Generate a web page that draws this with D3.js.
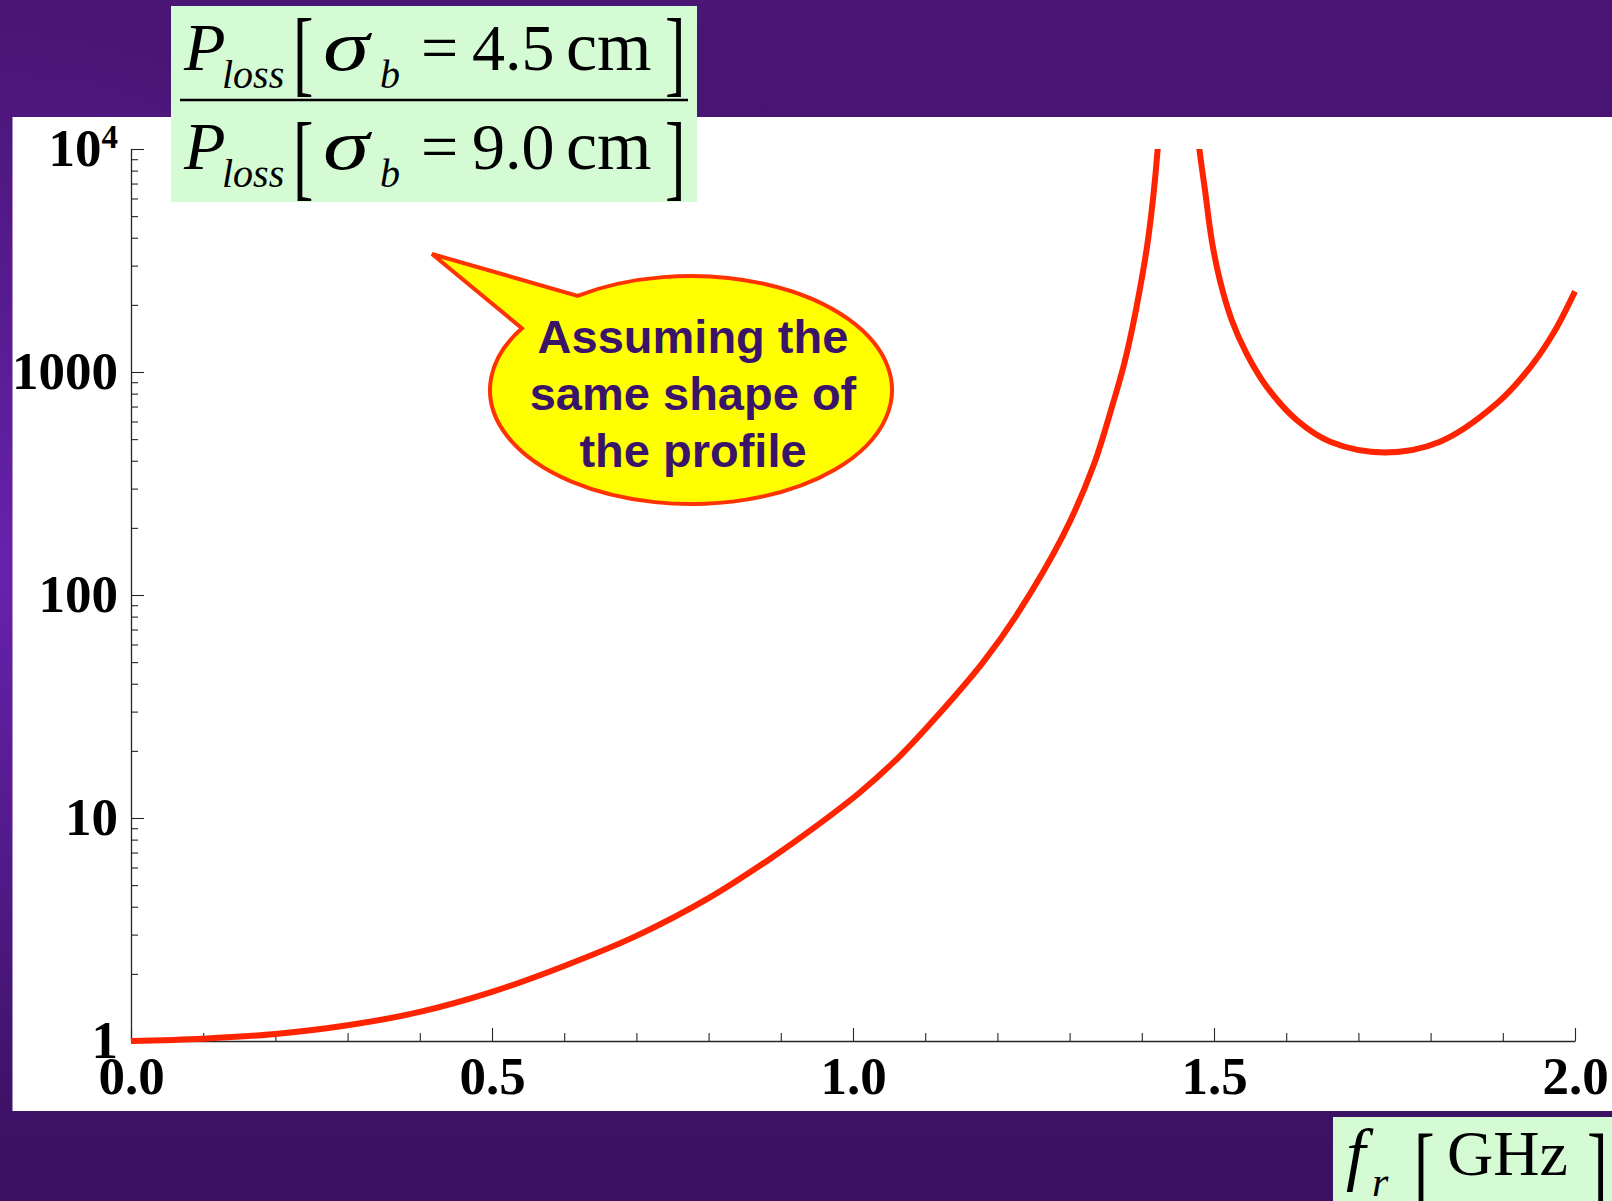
<!DOCTYPE html>
<html>
<head>
<meta charset="utf-8">
<script src="https://cdn.jsdelivr.net/npm/d3@7"></script>
<style>
  html, body { margin: 0; padding: 0; background: #451471; overflow: hidden; }
  svg { display: block; }
</style>
</head>
<body>
<svg id="chart" width="1612" height="1201"></svg>
<script>
// ---- data ----
const xMajorTicks = [0, 0.5, 1.0, 1.5, 2.0];
const xTickLabels = ["0.0", "0.5", "1.0", "1.5", "2.0"];
const xMinorTicks = [0.1, 0.2, 0.3, 0.4, 0.6, 0.7, 0.8, 0.9, 1.1, 1.2, 1.3, 1.4, 1.6, 1.7, 1.8, 1.9];
const yMajorTicks = [1, 10, 100, 1000, 10000];
const yTickLabels = ["1", "10", "100", "1000", "10"];
const yDecades = [1, 10, 100, 1000];
const yMinorMultipliers = [2, 3, 4, 5, 6, 7, 8, 9];

// branch below the resonance (f_r in GHz, loss ratio)
const leftX = [0, 0.1, 0.2, 0.3, 0.4, 0.5, 0.6, 0.7, 0.8, 0.887, 0.949, 1.009, 1.065, 1.116, 1.18, 1.226, 1.291, 1.333, 1.36, 1.376, 1.3926, 1.409, 1.422, 1.428];
const leftY = [1, 1.024, 1.075, 1.176, 1.35, 1.66, 2.17, 2.96, 4.37, 6.62, 9.19, 12.98, 18.96, 28.5, 49.9, 80.7, 185, 380, 722, 1100, 1950, 4000, 10000, 22000];
// branch above the resonance
const rightX = [1.475, 1.4797, 1.4875, 1.4968, 1.508, 1.5245, 1.545, 1.573, 1.6145, 1.661, 1.737, 1.813, 1.892, 1.939, 1.971, 2.0];
const rightY = [14000, 10000, 6550, 3910, 2590, 1711, 1213, 859, 609, 487, 436, 487, 724, 1060, 1510, 2300];

const calloutLines = ["Assuming the", "same shape of", "the profile"];

// ---- drawing ----
const svg = d3.select("#chart");
const W = 1612, H = 1201;
const defs = svg.append("defs");

const lg = defs.append("linearGradient").attr("id", "bg").attr("x1", 0).attr("y1", 0).attr("x2", 0).attr("y2", 1);
lg.append("stop").attr("offset", "0%").attr("stop-color", "#4a1575");
lg.append("stop").attr("offset", "100%").attr("stop-color", "#3c1163");
const rg = defs.append("radialGradient").attr("id", "glow")
  .attr("gradientUnits", "userSpaceOnUse").attr("cx", 0).attr("cy", 570).attr("r", 560);
rg.append("stop").attr("offset", "0%").attr("stop-color", "#6a24b4").attr("stop-opacity", 0.9);
rg.append("stop").attr("offset", "100%").attr("stop-color", "#6a24b4").attr("stop-opacity", 0);

svg.append("rect").attr("width", W).attr("height", H).attr("fill", "url(#bg)");
svg.append("rect").attr("width", W).attr("height", H).attr("fill", "url(#glow)");

// white panel
svg.append("rect").attr("x", 12.5).attr("y", 117).attr("width", W - 12.5).attr("height", 994).attr("fill", "#ffffff");

const x = d3.scaleLinear().domain([0, 2]).range([131, 1575]);
const y = d3.scaleLog().domain([1, 10000]).range([1041, 149]);

const tickFont = "'Liberation Serif', 'Times New Roman', serif";
const axisColor = "#262626";

// y axis: minor ticks
const yMinor = [];
yDecades.forEach(d => yMinorMultipliers.forEach(m => yMinor.push(d * m)));
const gyMinor = svg.append("g").attr("transform", `translate(${x(0)},0)`)
  .call(d3.axisLeft(y).tickValues(yMinor).tickSize(-7).tickSizeOuter(0).tickFormat(""));
gyMinor.select(".domain").remove();
// y axis: major ticks + labels
const gy = svg.append("g").attr("transform", `translate(${x(0)},0)`)
  .call(d3.axisLeft(y).tickValues(yMajorTicks).tickSize(-13).tickSizeOuter(0).tickPadding(13)
    .tickFormat((d, i) => yTickLabels[i]));
gy.selectAll("text").attr("font-family", tickFont).attr("font-weight", "bold")
  .attr("font-size", 53).attr("fill", "#000");
gy.selectAll(".tick").filter(d => d === 10000).select("text")
  .append("tspan").attr("dy", "-18").attr("font-size", 33).text("4");

// x axis: minor ticks
const gxMinor = svg.append("g").attr("transform", `translate(0,${y(1)})`)
  .call(d3.axisBottom(x).tickValues(xMinorTicks).tickSize(-8).tickSizeOuter(0).tickFormat(""));
gxMinor.select(".domain").remove();
const gx = svg.append("g").attr("transform", `translate(0,${y(1)})`)
  .call(d3.axisBottom(x).tickValues(xMajorTicks).tickSize(-13).tickSizeOuter(0).tickPadding(15)
    .tickFormat((d, i) => xTickLabels[i]));
gx.selectAll("text").attr("font-family", tickFont).attr("font-weight", "bold")
  .attr("font-size", 53).attr("fill", "#000");

[gy, gx, gyMinor, gxMinor].forEach(g => {
  g.selectAll("line").attr("stroke", axisColor).attr("stroke-width", 1.1);
  g.selectAll(".domain").attr("stroke", axisColor).attr("stroke-width", 1.3);
});

// curve
defs.append("clipPath").attr("id", "plotclip").append("rect")
  .attr("x", x(0) - 5).attr("y", y(10000)).attr("width", x(2) - x(0) + 10).attr("height", y(1) - y(10000) + 5);
const line = d3.line().x(d => x(d[0])).y(d => y(d[1])).curve(d3.curveCatmullRom.alpha(0.5));
const branches = [d3.zip(leftX, leftY), d3.zip(rightX, rightY)];
svg.append("g").attr("clip-path", "url(#plotclip)")
  .selectAll("path").data(branches).join("path")
  .attr("d", line).attr("fill", "none").attr("stroke", "#ff2400").attr("stroke-width", 6)
  .attr("stroke-linejoin", "round");

// callout bubble
const cx = 691, cy = 390, rx = 201, ry = 114;
const tip = [432, 254];
function ept(t) { return [cx + rx * Math.cos(t), cy + ry * Math.sin(t)]; }
const pA = ept(-2.57), pB = ept(-2.17);
const bubble = `M${pB[0]},${pB[1]} A${rx},${ry} 0 1 1 ${pA[0]},${pA[1]} L${tip[0]},${tip[1]} Z`;
svg.append("path").attr("d", bubble).attr("fill", "#ffff00").attr("stroke", "#ff3300")
  .attr("stroke-width", 4).attr("stroke-linejoin", "miter");
svg.append("g").selectAll("text").data(calloutLines).join("text")
  .attr("x", 693).attr("y", (d, i) => 353 + i * 57)
  .attr("text-anchor", "middle")
  .attr("font-family", "'Liberation Sans', Arial, sans-serif").attr("font-weight", "bold")
  .attr("font-size", 47).attr("fill", "#3a1468").text(d => d);

// ---- title box (fraction) ----
const serif = "'Liberation Serif', 'Times New Roman', serif";
const mainFs = 66, subFs = 40;
svg.append("rect").attr("x", 171).attr("y", 6).attr("width", 526).attr("height", 196).attr("fill", "#d4fbd4");

function txt(g, s, px, py, fs, italic) {
  return g.append("text").attr("x", px).attr("y", py).attr("font-family", serif)
    .attr("font-size", fs).attr("font-style", italic ? "italic" : "normal").attr("fill", "#000").text(s);
}
function scaled(g, s, px, py, fs, sx, italic) {
  return g.append("text").attr("transform", `translate(${px},${py}) scale(${sx},1)`)
    .attr("font-family", serif).attr("font-size", fs)
    .attr("font-style", italic ? "italic" : "normal").attr("fill", "#000").text(s);
}
function ratioRow(base, value, bOff) {
  const g = svg.append("g");
  txt(g, "P", 184, base, mainFs + 2, true);
  txt(g, "loss", 222, base + 18, subFs, true);
  scaled(g, "[", 293, base + bOff, 96, 0.64, false);
  scaled(g, "σ", 323, base, 72, 1.3, true);
  txt(g, "b", 380, base + 18, subFs, true);
  txt(g, "=", 421, base, mainFs, false);
  txt(g, value, 472, base, mainFs, false);
  txt(g, "cm", 566, base, mainFs + 4, false);
  scaled(g, "]", 665, base + bOff, 96, 0.64, false);
}
ratioRow(70, "4.5", 14);
svg.append("line").attr("x1", 180).attr("x2", 688).attr("y1", 100).attr("y2", 100)
  .attr("stroke", "#000").attr("stroke-width", 2.5);
ratioRow(169, "9.0", 19);

// ---- x-axis label box ----
svg.append("rect").attr("x", 1333).attr("y", 1117).attr("width", W - 1333).attr("height", H - 1117).attr("fill", "#d4fbd4");
const gl = svg.append("g");
txt(gl, "f", 1346, 1177, 70, true);
txt(gl, "r", 1372, 1196, 42, true);
scaled(gl, "[", 1414, 1203, 100, 0.62, false);
txt(gl, "GHz", 1447, 1175, 64, false);
scaled(gl, "]", 1587, 1203, 100, 0.62, false);
</script>
</body>
</html>
